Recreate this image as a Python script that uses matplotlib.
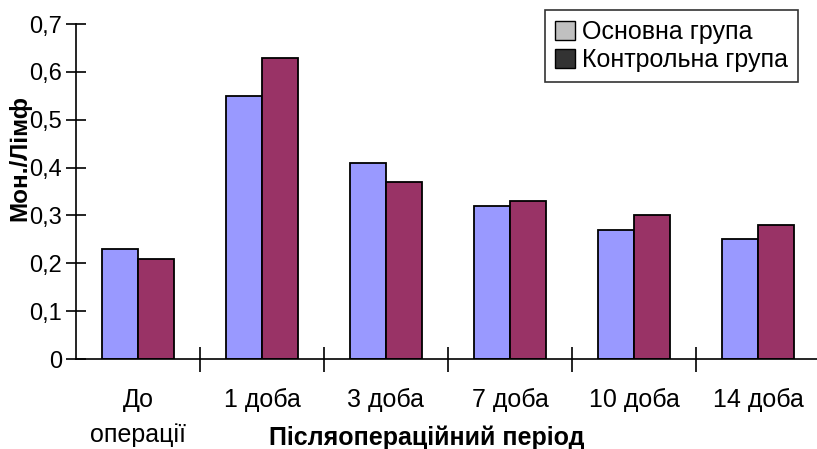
import numpy as np
import matplotlib.pyplot as plt
from matplotlib.patches import Patch

plt.rcParams['font.family'] = ['Liberation Sans', 'DejaVu Sans']

categories = ["До\nоперації", "1 доба", "3 доба", "7 доба", "10 доба", "14 доба"]
main_group = [0.23, 0.55, 0.41, 0.32, 0.27, 0.25]
control_group = [0.21, 0.63, 0.37, 0.33, 0.30, 0.28]
series_names = ["Основна група", "Контрольна група"]

fs = 18

fig = plt.figure(figsize=(8.17, 4.49), dpi=100)
ax = fig.add_axes((76 / 817, 90 / 449, 741 / 817, 335 / 449))

x = np.arange(len(categories))
w = 0.29
ax.bar(x - w / 2, main_group, w, color='#9999FF', edgecolor='black', linewidth=1.3)
ax.bar(x + w / 2, control_group, w, color='#993366', edgecolor='black', linewidth=1.3)

ax.set_xlim(-0.5, 5.476)
ax.set_ylim(0, 0.7)
ax.spines['top'].set_visible(False)
ax.spines['right'].set_visible(False)
ax.spines['left'].set_linewidth(1.2)
ax.spines['bottom'].set_linewidth(1.2)

ax.set_yticks(np.arange(0, 0.71, 0.1))
ax.set_yticklabels(["0", "0,1", "0,2", "0,3", "0,4", "0,5", "0,6", "0,7"], fontsize=17)
ax.tick_params(axis='y', direction='inout', length=14, width=1.2, pad=3)

ax.set_xticks(np.arange(0.5, 5.0, 1))
ax.set_xticklabels([])
ax.tick_params(axis='x', which='major', direction='inout', length=18, width=1.2)
ax.set_xticks(x, minor=True)
ax.set_xticklabels(categories, minor=True, fontsize=fs, linespacing=1.55, va='top')
ax.tick_params(axis='x', which='minor', length=0, pad=21)

fig.text(20 / 817, 1 - 158 / 449, "Мон./Лімф", fontsize=17.5, fontweight='bold',
         rotation=90, ha='center', va='center')
fig.text(427 / 817, 1 - 438 / 449, "Післяопераційний період", fontsize=fs,
         fontweight='bold', ha='center', va='center')

handles = [Patch(facecolor='#C0C0C0', edgecolor='black'),
           Patch(facecolor='#333333', edgecolor='black')]
leg = fig.legend(handles, series_names, loc='upper right', bbox_to_anchor=(798 / 817, 1 - 10 / 449),
                 fontsize=fs, frameon=True, fancybox=False, edgecolor='black',
                 handlelength=0.8, handleheight=0.8, handletextpad=0.3,
                 borderpad=0.4, labelspacing=0.15, borderaxespad=0)
leg.get_frame().set_linewidth(1.2)

fig.savefig('out.png', dpi=100)
